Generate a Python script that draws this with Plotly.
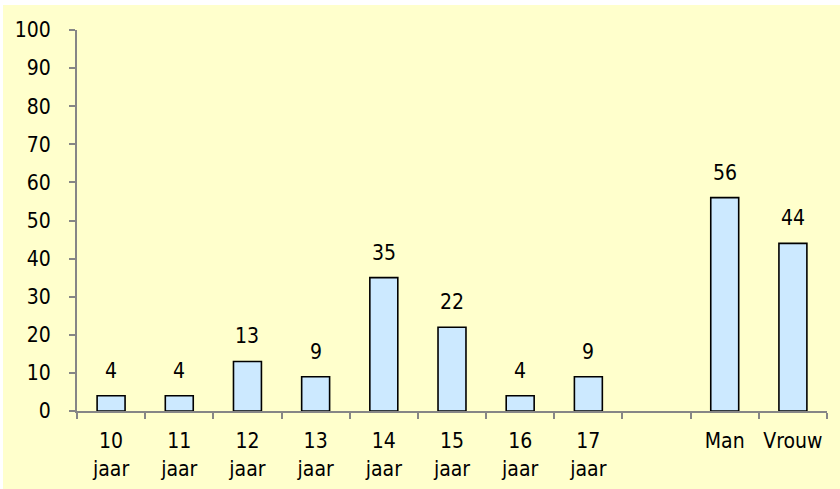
import plotly.graph_objects as go

categories = ["10<br>jaar", "11<br>jaar", "12<br>jaar", "13<br>jaar", "14<br>jaar",
              "15<br>jaar", "16<br>jaar", "17<br>jaar", " ", "Man", "Vrouw"]
values = [4, 4, 13, 9, 35, 22, 4, 9, None, 56, 44]
y_ticks = list(range(0, 101, 10))

FONT = "DejaVu Sans Condensed, Liberation Sans, sans-serif"
AXIS = "#868686"

fig = go.Figure()
fig.add_trace(go.Bar(
    x=categories, y=values, width=0.41,
    marker=dict(color="#CCE9FF", line=dict(color="black", width=1.6)),
    hoverinfo="skip",
))

for c, v in zip(categories, values):
    if v is None:
        continue
    fig.add_annotation(x=c, y=v, text=str(v), showarrow=False, yanchor="middle",
                       yshift=25, font=dict(family=FONT, size=21, color="black"))

fig.update_layout(
    width=840, height=489,
    margin=dict(l=77, r=13, t=30, b=78, autoexpand=False),
    paper_bgcolor="#FFFFCC", plot_bgcolor="#FFFFCC",
    showlegend=False,
    font=dict(family=FONT, size=21, color="black"),
    bargap=0.59,
    shapes=[
        dict(type="rect", xref="paper", yref="paper", x0=-0.2, x1=1.1,
             y0=1 + 25 / 381, y1=1.2, fillcolor="white", line=dict(width=0), layer="below"),
        dict(type="rect", xref="paper", yref="paper", x0=-77 / 750, x1=-74 / 750,
             y0=-0.3, y1=1.2, fillcolor="white", line=dict(width=0), layer="below"),
    ],
)
fig.update_xaxes(
    type="category", tickson="boundaries", ticks="outside", ticklen=6, tickangle=0,
    tickcolor=AXIS, tickwidth=2, showline=True, linecolor=AXIS, linewidth=2,
    showgrid=False, zeroline=False, ticklabelstandoff=10, fixedrange=True, automargin=False,
)
fig.update_yaxes(
    range=[0, 100], tickvals=y_ticks, ticks="outside", ticklen=6,
    tickcolor=AXIS, tickwidth=2, showline=True, linecolor=AXIS, linewidth=2,
    showgrid=False, zeroline=False, ticklabelstandoff=14, fixedrange=True, automargin=False,
)

fig.write_html(
    "out.html",
    config={"displayModeBar": False, "staticPlot": True},
    post_script="document.body.style.margin='0';document.body.style.overflow='hidden';",
)
